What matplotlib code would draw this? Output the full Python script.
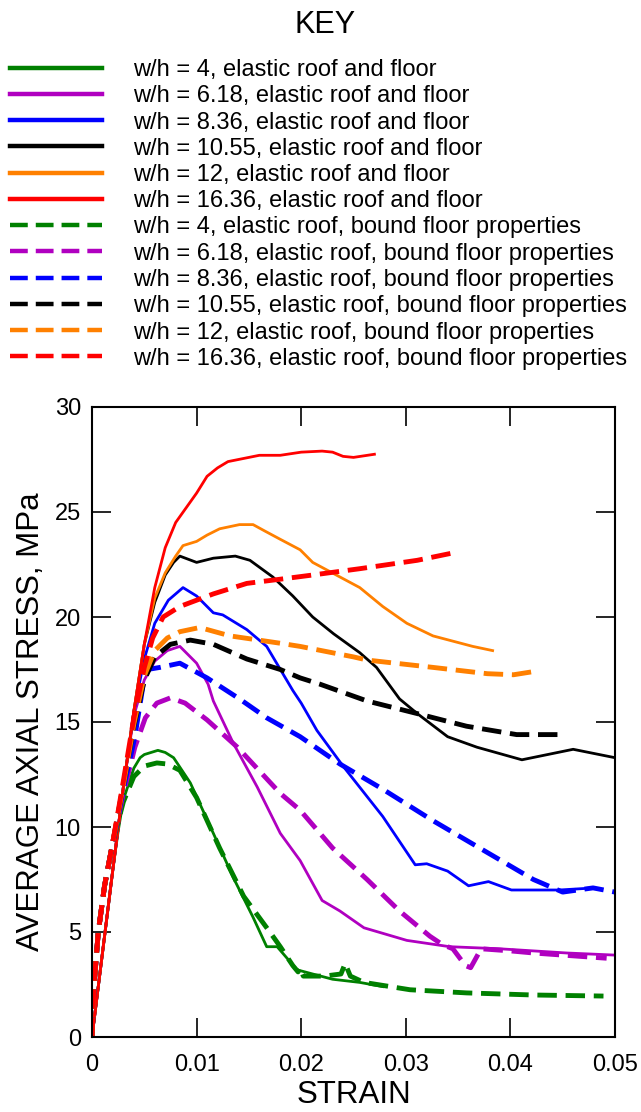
import matplotlib
matplotlib.use("Agg")
import matplotlib.pyplot as plt

plt.rcParams["font.family"] = ["Liberation Sans", "DejaVu Sans"]

# strain values and average axial stress (MPa)
# solid: elastic roof and floor
green_x = [0, 0.001, 0.002, 0.0025, 0.003, 0.004, 0.0046, 0.005, 0.0063, 0.007, 0.0078,
           0.0094, 0.0116, 0.0135, 0.0154, 0.0167, 0.0177, 0.0196, 0.0211, 0.023,
           0.0256, 0.0278]
green_y = [0, 4.0, 8.0, 9.8, 11.3, 12.8, 13.3, 13.45, 13.65, 13.55, 13.3,
           12.1, 9.7, 7.6, 5.7, 4.3, 4.3, 3.2, 3.0, 2.75,
           2.6, 2.4]

purple_x = [0, 0.001, 0.002, 0.003, 0.004, 0.005, 0.006, 0.0072, 0.0084, 0.010, 0.0111,
            0.0116, 0.0135, 0.0158, 0.018, 0.0199, 0.022, 0.0237, 0.026, 0.0301,
            0.0342, 0.039, 0.0454, 0.050]
purple_y = [0, 4.0, 8.0, 11.9, 15.3, 17.0, 17.9, 18.4, 18.6, 17.8, 16.8,
            16.0, 14.0, 11.9, 9.7, 8.4, 6.5, 6.0, 5.2, 4.6,
            4.3, 4.2, 4.0, 3.9]

blue_x = [0, 0.001, 0.002, 0.003, 0.004, 0.005, 0.006, 0.0073, 0.0087, 0.010, 0.0116,
          0.0125, 0.0148, 0.0167, 0.0192, 0.020, 0.0215, 0.024, 0.0278, 0.0309,
          0.032, 0.034, 0.036, 0.0379, 0.0401, 0.0447, 0.048]
blue_y = [0, 4.0, 8.0, 11.9, 15.5, 18.0, 19.7, 20.8, 21.4, 21.0, 20.2,
          20.1, 19.4, 18.6, 16.5, 15.9, 14.6, 12.9, 10.5, 8.2,
          8.25, 7.9, 7.2, 7.4, 7.0, 7.0, 7.1]

black_x = [0, 0.001, 0.002, 0.003, 0.004, 0.005, 0.006, 0.007, 0.0078, 0.0084, 0.010,
           0.0116, 0.0137, 0.0151, 0.0173, 0.0192, 0.0211, 0.0231, 0.0256, 0.0272,
           0.0294, 0.0311, 0.034, 0.0368, 0.0411, 0.046, 0.050]
black_y = [0, 4.0, 8.0, 11.9, 15.5, 18.7, 20.7, 22.0, 22.6, 22.9, 22.6,
           22.8, 22.9, 22.7, 21.9, 21.0, 20.0, 19.2, 18.3, 17.6,
           16.1, 15.4, 14.3, 13.8, 13.2, 13.7, 13.3]

orange_x = [0, 0.001, 0.002, 0.003, 0.004, 0.005, 0.006, 0.007, 0.008, 0.0087, 0.010,
            0.011, 0.0122, 0.0141, 0.0154, 0.0165, 0.018, 0.0199, 0.0211, 0.0256,
            0.0278, 0.0301, 0.0326, 0.0364, 0.0383]
orange_y = [0, 4.0, 8.0, 11.9, 15.5, 18.7, 20.9, 22.1, 22.9, 23.4, 23.6,
            23.9, 24.2, 24.4, 24.4, 24.1, 23.7, 23.2, 22.6, 21.4,
            20.5, 19.7, 19.1, 18.6, 18.4]

red_x = [0, 0.001, 0.002, 0.003, 0.004, 0.005, 0.006, 0.007, 0.008, 0.009, 0.010,
         0.011, 0.012, 0.013, 0.014, 0.016, 0.018, 0.020, 0.022, 0.023,
         0.024, 0.025, 0.027]
red_y = [0, 4.0, 8.0, 11.9, 15.5, 18.7, 21.4, 23.3, 24.5, 25.2, 25.9,
         26.7, 27.1, 27.4, 27.5, 27.7, 27.7, 27.85, 27.9, 27.85,
         27.65, 27.6, 27.75]

# dashed: elastic roof, bound floor properties
green_b_x = [0, 0.0002, 0.0006, 0.0012, 0.002, 0.003, 0.004, 0.005, 0.0062, 0.0072,
             0.0084, 0.010, 0.0122, 0.0145, 0.017, 0.018, 0.0192, 0.0197, 0.0199,
             0.0202, 0.0222, 0.0238, 0.0242, 0.0247, 0.026, 0.0304, 0.0358, 0.0422,
             0.0489]
green_b_y = [0, 2.5, 5.0, 7.2, 9.3, 11.2, 12.4, 12.9, 13.05, 13.0,
             12.7, 11.4, 9.0, 6.7, 5.0, 4.3, 3.4, 3.1, 3.3,
             2.9, 2.9, 3.0, 3.5, 2.9, 2.6, 2.25, 2.1, 2.0,
             1.95]

purple_b_x = [0, 0.0002, 0.0006, 0.0012, 0.002, 0.003, 0.0041, 0.0051, 0.0062, 0.0075,
              0.0089, 0.011, 0.0139, 0.018, 0.0199, 0.023, 0.0263, 0.0294, 0.0323,
              0.0335, 0.0345, 0.0357, 0.0362, 0.0372, 0.040, 0.0422, 0.0492]
purple_b_y = [0, 2.5, 5.0, 7.2, 9.3, 11.6, 13.8, 15.2, 15.9, 16.15,
              15.9, 15.1, 13.8, 11.6, 10.8, 9.0, 7.5, 6.0, 4.8,
              4.4, 4.2, 3.4, 3.3, 4.2, 4.1, 4.0, 3.75]

blue_b_x = [0, 0.0002, 0.0006, 0.0012, 0.002, 0.003, 0.0041, 0.0049, 0.0053, 0.0065,
            0.0084, 0.011, 0.0141, 0.0167, 0.0199, 0.0237, 0.0278, 0.0326, 0.0374,
            0.0422, 0.045, 0.0479, 0.050]
blue_b_y = [0, 2.5, 5.0, 7.2, 9.3, 11.8, 14.3, 16.8, 17.5, 17.6,
            17.8, 17.1, 16.1, 15.2, 14.3, 13.0, 11.8, 10.3, 8.9,
            7.5, 6.9, 7.1, 6.9]

black_b_x = [0, 0.0002, 0.0006, 0.0012, 0.002, 0.003, 0.004, 0.005, 0.006, 0.0075,
             0.0094, 0.0116, 0.0148, 0.018, 0.0199, 0.0218, 0.0263, 0.0311, 0.0358,
             0.0406, 0.0447]
black_b_y = [0, 2.5, 5.0, 7.2, 9.3, 12.0, 14.8, 17.0, 18.1, 18.7,
             18.9, 18.7, 18.0, 17.5, 17.1, 16.8, 16.0, 15.4, 14.8,
             14.4, 14.4]

orange_b_x = [0, 0.0002, 0.0006, 0.0012, 0.002, 0.003, 0.004, 0.005, 0.006, 0.0072,
              0.0084, 0.0103, 0.0132, 0.018, 0.0199, 0.025, 0.0263, 0.0326, 0.0378,
              0.0403, 0.0422]
orange_b_y = [0, 2.5, 5.0, 7.2, 9.3, 12.0, 14.9, 17.2, 18.4, 19.0,
              19.3, 19.5, 19.1, 18.75, 18.6, 18.1, 17.95, 17.6, 17.3,
              17.25, 17.4]

red_b_x = [0, 0.0002, 0.0006, 0.0012, 0.002, 0.003, 0.004, 0.005, 0.0058, 0.0068,
           0.0084, 0.0116, 0.0148, 0.018, 0.0211, 0.0256, 0.0311, 0.0345]
red_b_y = [0, 2.5, 5.0, 7.2, 9.3, 12.2, 15.2, 17.6, 19.0, 20.0,
           20.5, 21.1, 21.6, 21.8, 22.0, 22.3, 22.7, 23.05]

ratios = ["4", "6.18", "8.36", "10.55", "12", "16.36"]
colors = ["#008000", "#b000c0", "#0000ff", "#000000", "#ff8000", "#ff0000"]
solid = [(green_x, green_y), (purple_x, purple_y), (blue_x, blue_y),
         (black_x, black_y), (orange_x, orange_y), (red_x, red_y)]
dashed = [(green_b_x, green_b_y), (purple_b_x, purple_b_y), (blue_b_x, blue_b_y),
          (black_b_x, black_b_y), (orange_b_x, orange_b_y), (red_b_x, red_b_y)]

fig = plt.figure(figsize=(6.41, 11.12), dpi=100)
ax = fig.add_axes([92 / 641, 75 / 1112, 523 / 641, 630 / 1112])

handles = []
labels = []
for (x, y), c, r in zip(solid, colors, ratios):
    ln, = ax.plot(x, y, color=c, lw=2.0, solid_joinstyle="round")
    handles.append(ln)
    labels.append(f"w/h = {r}, elastic roof and floor")
for (x, y), c, r in zip(dashed, colors, ratios):
    ln, = ax.plot(x, y, color=c, lw=3.5, dashes=(4.0, 1.8))
    handles.append(ln)
    labels.append(f"w/h = {r}, elastic roof, bound floor properties")

ax.set_xlim(0, 0.05)
ax.set_ylim(0, 30)
ax.set_xticks([0, 0.01, 0.02, 0.03, 0.04, 0.05])
ax.set_xticklabels(["0", "0.01", "0.02", "0.03", "0.04", "0.05"])
ax.set_yticks([0, 5, 10, 15, 20, 25, 30])
ax.tick_params(direction="in", length=13.5, width=1.2, labelsize=17,
               top=True, right=True, pad=8)
ax.tick_params(axis="x", pad=12)
for s in ax.spines.values():
    s.set_linewidth(1.5)
ax.set_xlabel("STRAIN", fontsize=22.5, labelpad=3)
ax.set_ylabel("AVERAGE AXIAL STRESS, MPa", fontsize=22.5, labelpad=6)

fig.text(325 / 641, 1 - 25 / 1112, "KEY", fontsize=22, ha="center", va="center")
leg = fig.legend(handles, labels, loc="upper left",
                 bbox_to_anchor=(10 / 641, 1 - 59 / 1112), frameon=False,
                 fontsize=17, handlelength=3.9, handletextpad=1.3,
                 labelspacing=0.18, borderpad=0, borderaxespad=0)
for h in leg.get_lines():
    h.set_linewidth(3.2)

fig.savefig("out.png", dpi=100)
